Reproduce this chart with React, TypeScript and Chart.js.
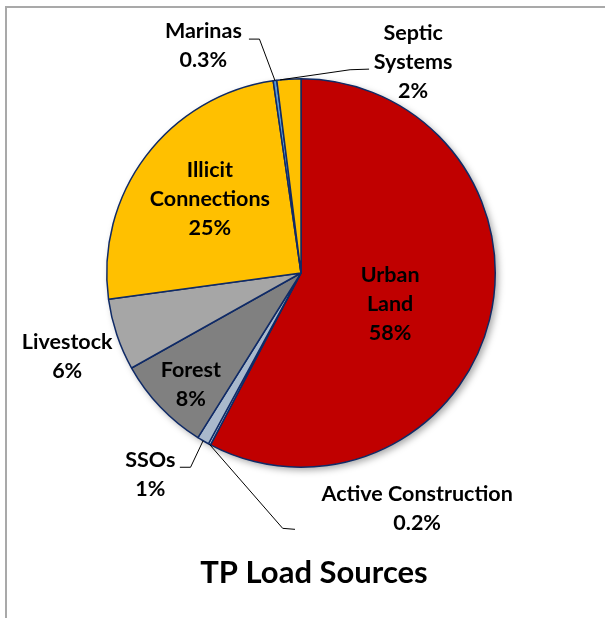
import React, { useEffect, useRef } from "react";
import { Chart, registerables } from "chart.js";

Chart.register(...registerables);

// ---- data ----
const categories = [
  "Urban Land",
  "Active Construction",
  "SSOs",
  "Forest",
  "Livestock",
  "Illicit Connections",
  "Marinas",
  "Septic Systems",
];
const loadShare = [58, 0.2, 1, 8, 6, 25, 0.3, 2];
const percentLabels = ["58%", "0.2%", "1%", "8%", "6%", "25%", "0.3%", "2%"];
const chartTitle = "TP Load Sources";

// ---- styles ----
const sliceColors = [
  "#C00000",
  "#A3B6CF",
  "#A9B9CC",
  "#808080",
  "#A6A6A6",
  "#FFC000",
  "#5B9BD5",
  "#FFC000",
];
const sliceBorder = "#0F2A66";
const FONT = "Lato, 'Open Sans', sans-serif";
const REF_R = 194;

// label placement (relative to pie centre, in px at reference radius)
type Place = {
  dx: number;
  dy: number;
  wrap: boolean;
  leader?: number[][];
  anchor?: number;
};
const placement: Place[] = [
  { dx: 89, dy: 31, wrap: true },
  { dx: 116, dy: 235, wrap: false, leader: [[-6, 256], [-18.3, 255]], anchor: 0.5 },
  { dx: -150.5, dy: 201, wrap: false, leader: [[-121, 194], [-110.3, 194]], anchor: 0.5 },
  { dx: -110, dy: 111.5, wrap: false },
  { dx: -233.5, dy: 83, wrap: false },
  { dx: -91, dy: -74, wrap: true },
  { dx: -97.5, dy: -227.5, wrap: false, leader: [[-52, -233.6], [-41.5, -233.6]], anchor: 0.5 },
  { dx: 112, dy: -211, wrap: true, leader: [[68, -203.6], [49, -203]], anchor: 0.14 },
];

const decorPlugin = {
  id: "decor",
  beforeDraw(chart: any) {
    const ctx = chart.ctx;
    ctx.save();
    ctx.strokeStyle = "#a9a9a9";
    ctx.lineWidth = 2;
    ctx.beginPath();
    ctx.moveTo(6, chart.height);
    ctx.lineTo(6, 7);
    ctx.lineTo(chart.width, 7);
    ctx.stroke();
    ctx.restore();
  },
  beforeDatasetsDraw(chart: any) {
    const arc = chart.getDatasetMeta(0).data[0];
    if (!arc) return;
    const { x, y, outerRadius } = arc.getProps(["x", "y", "outerRadius"], true);
    const ctx = chart.ctx;
    ctx.save();
    ctx.shadowColor = "rgba(0,0,0,0.35)";
    ctx.shadowBlur = 7;
    ctx.shadowOffsetX = 3;
    ctx.shadowOffsetY = 3;
    ctx.beginPath();
    ctx.arc(x, y, outerRadius, 0, Math.PI * 2);
    ctx.fillStyle = "#ffffff";
    ctx.fill();
    ctx.restore();
  },
  afterDatasetsDraw(chart: any) {
    const ctx = chart.ctx;
    const arcs = chart.getDatasetMeta(0).data;
    const first = arcs[0];
    const { x: cx, y: cy, outerRadius: r } = first.getProps(["x", "y", "outerRadius"], true);
    const s = r / REF_R;
    const labels: string[] = chart.data.labels;
    ctx.save();
    // leader lines
    ctx.strokeStyle = "#000";
    ctx.lineWidth = 1;
    placement.forEach((p, i) => {
      if (!p.leader) return;
      const a = arcs[i].getProps(["startAngle", "endAngle", "outerRadius"], true);
      const ang = a.startAngle + (a.endAngle - a.startAngle) * (p.anchor ?? 0.5);
      const ex = cx + Math.cos(ang) * a.outerRadius;
      const ey = cy + Math.sin(ang) * a.outerRadius;
      ctx.beginPath();
      p.leader.forEach((pt, k) => {
        const px = cx + pt[0] * s;
        const py = cy + pt[1] * s;
        if (k === 0) ctx.moveTo(px, py);
        else ctx.lineTo(px, py);
      });
      ctx.lineTo(ex, ey);
      ctx.stroke();
    });
    // text
    ctx.fillStyle = "#000";
    ctx.font = `bold 21.5px ${FONT}`;
    ctx.textAlign = "center";
    ctx.textBaseline = "middle";
    const lineH = 29 * s;
    placement.forEach((p, i) => {
      const name = labels[i];
      const lines = p.wrap ? name.split(" ") : [name];
      lines.push(percentLabels[i]);
      const bx = cx + p.dx * s;
      const by = cy + p.dy * s;
      lines.forEach((t, k) => {
        ctx.fillText(t, bx, by + (k - (lines.length - 1) / 2) * lineH);
      });
    });
    // title
    ctx.font = `bold 31px ${FONT}`;
    ctx.textBaseline = "alphabetic";
    ctx.fillText(chartTitle, 314, 583);
    ctx.restore();
  },
};

export default function App() {
  const ref = useRef<HTMLCanvasElement | null>(null);
  useEffect(() => {
    if (!ref.current) return;
    const chart = new Chart(ref.current, {
      type: "pie",
      data: {
        labels: categories,
        datasets: [
          {
            data: loadShare,
            backgroundColor: sliceColors,
            borderColor: sliceBorder,
            borderWidth: 1.5,
          },
        ],
      },
      options: {
        animation: false,
        responsive: false,
        devicePixelRatio: 1,
        layout: { padding: { left: 106, right: 109, top: 78, bottom: 150 } },
        plugins: {
          legend: { display: false },
          title: { display: false },
          tooltip: { enabled: false },
        },
      },
      plugins: [decorPlugin],
    });
    return () => chart.destroy();
  }, []);
  return (
    <div style={{ position: "fixed", left: 0, top: 0, width: 605, height: 618, background: "#fff" }}>
      <canvas ref={ref} width={605} height={618} style={{ display: "block" }} />
    </div>
  );
}
